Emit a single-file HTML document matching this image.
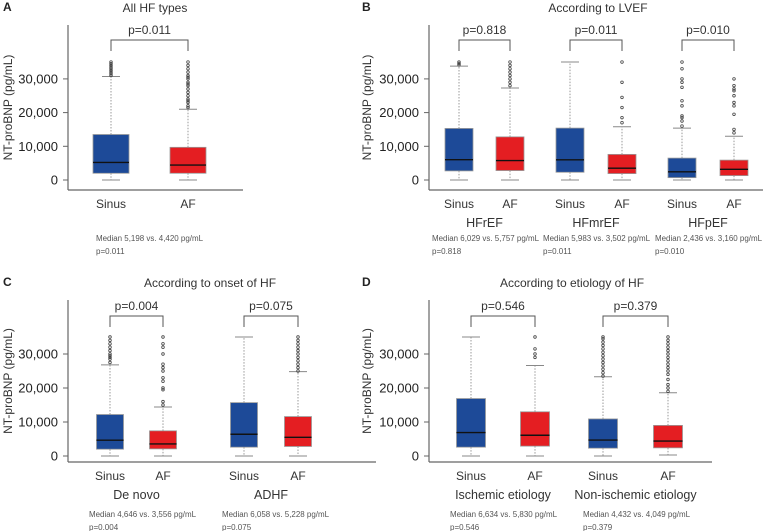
<!DOCTYPE html>
<html><head><meta charset="utf-8"><style>
body{margin:0;background:#fff;}
svg{display:block;font-family:"Liberation Sans",sans-serif;}
</style></head><body>
<svg id="chart" width="765" height="531" viewBox="0 0 765 531" xmlns="http://www.w3.org/2000/svg"></svg>
<script>
// ---- data (values in pg/mL) ----
const yTicks = [0, 10000, 20000, 30000];
const yTickLabels = ["0", "10,000", "20,000", "30,000"];
const categoriesA = ["Sinus", "AF"];
const q1A = [2000, 2000];
const medA = [5198, 4420];
const q3A = [13500, 9700];
const whLoA = [0, 0];
const whHiA = [30700, 21000];
const outA = [[31000,31500,32000,32500,33000,33500,34000,34500,35000],[21500,22000,23000,23500,24000,25000,26000,27000,28000,28500,29000,30000,30500,31000,32000,33000,34000,35000]];
const categoriesB = ["Sinus","AF","Sinus","AF","Sinus","AF"];
const q1B = [2700, 2800, 2300, 1900, 700, 1300];
const medB = [6029, 5757, 5983, 3502, 2436, 3160];
const q3B = [15300, 12800, 15400, 7600, 6500, 5900];
const whLoB = [0, 0, 0, 0, 0, 0];
const whHiB = [33800, 27300, 35000, 15800, 15400, 13000];
const outB = [[34200,34600,35000],[28000,29000,30000,31000,32000,33000,34000,35000],[],[17000,18500,21500,24500,29000,35000],[16000,17500,18500,19000,22000,23500,27500,29000,30000,33000,35000],[14000,15000,19500,22000,23000,25000,26500,27000,28000,30000]];
const categoriesC = ["Sinus","AF","Sinus","AF"];
const q1C = [2000, 2100, 2600, 2800];
const medC = [4646, 3556, 6400, 5500];
const q3C = [12200, 7400, 15700, 11600];
const whLoC = [0, 0, 0, 0];
const whHiC = [26800, 14400, 35000, 24800];
const outC = [[27500,28500,29000,29500,30000,31000,32000,33000,34000,35000],[15000,16000,19500,20000,22000,23000,25000,26000,27000,30000,32000,33000,35000],[],[25000,26000,27000,28000,29000,30000,31000,32000,33000,34000,35000]];
const categoriesD = ["Sinus","AF","Sinus","AF"];
const q1D = [2600, 2900, 2300, 2400];
const medD = [6900, 6100, 4700, 4400];
const q3D = [16900, 13000, 10900, 9000];
const whLoD = [0, 0, 0, 300];
const whHiD = [35000, 26600, 23300, 18600];
const outD = [[],[29000,30000,31500,35000],[23500,24500,25500,26500,27500,28500,29500,30500,31500,32500,33500,34500,35000],[19000,20000,21000,22500,24000,25000,26000,27000,28000,29000,30000,31000,32000,33000,34000,35000]];
const pValsA = ["p=0.011"];
const pValsB = ["p=0.818","p=0.011","p=0.010"];
const pValsC = ["p=0.004","p=0.075"];
const pValsD = ["p=0.546","p=0.379"];

const NS = "http://www.w3.org/2000/svg";
const svg = document.getElementById('chart');
function mk(tag, attrs, parent, text){
  const e = document.createElementNS(NS, tag);
  for (const k in attrs) e.setAttribute(k, attrs[k]);
  if (text !== undefined) e.textContent = text;
  (parent || svg).appendChild(e);
  return e;
}

function panel(o){
  const g = mk('g', {});
  
  
  const y = v => o.y0 - v * o.k;
  let t = mk('text', {x:o.letterX, y:o.top-14, 'font-size':12, 'font-weight':'bold', fill:'#222'}, g, o.letter);
   
  t = mk('text', {x:o.titleX, y:o.top-13, 'font-size':12, 'text-anchor':'middle', fill:'#333'}, g, o.title);
   
  let l = mk('line', {x1:o.ax, y1:o.top, x2:o.ax, y2:o.axisY, stroke:'#666', 'stroke-width':1.2}, g);
   
  l = mk('line', {x1:o.ax, y1:o.axisY, x2:o.axEnd, y2:o.axisY, stroke:'#666', 'stroke-width':1.2}, g);
   
  yTicks.forEach((v, i) => {
    const tk = mk('line', {x1:o.ax-5, y1:y(v), x2:o.ax, y2:y(v), stroke:'#666'}, g);
     
    const tl = mk('text', {x:o.ax-10, y:y(v)+4.5, 'font-size':13, 'text-anchor':'end', fill:'#222'}, g, yTickLabels[i]);
     
  });
  const yt = mk('text', {x:0, y:0, 'font-size':12, 'text-anchor':'middle', fill:'#333', transform:`translate(${o.ylabX},${(o.top+o.axisY)/2}) rotate(-90)`}, g, 'NT-proBNP (pg/mL)');
   
  o.cats.forEach((c, i) => {
    const cx = o.cx[i], w = o.bw, col = i % 2 === 0 ? '#1d4a98' : '#e41e22';
    const bg = mk('g', {}, g);
    
    
    mk('line', {x1:cx, y1:y(o.q3[i]), x2:cx, y2:y(o.hi[i]), stroke:'#999', 'stroke-dasharray':'1.5,1.5'}, bg);
    mk('line', {x1:cx, y1:y(o.q1[i]), x2:cx, y2:y(o.lo[i]), stroke:'#999', 'stroke-dasharray':'1.5,1.5'}, bg);
    mk('line', {x1:cx-9, y1:y(o.hi[i]), x2:cx+9, y2:y(o.hi[i]), stroke:'#888', 'stroke-width':1}, bg);
    mk('line', {x1:cx-9, y1:y(o.lo[i]), x2:cx+9, y2:y(o.lo[i]), stroke:'#888', 'stroke-width':1}, bg);
    mk('rect', {x:cx-w/2, y:y(o.q3[i]), width:w, height:y(o.q1[i])-y(o.q3[i]), fill:col, stroke:'#999', 'stroke-width':0.8}, bg);
    mk('line', {x1:cx-w/2, y1:y(o.med[i]), x2:cx+w/2, y2:y(o.med[i]), stroke:'#111', 'stroke-width':1.4}, bg);
    o.out[i].forEach(v => {
      const p = mk('circle', {cx:cx, cy:y(v), r:1.3, fill:'none', stroke:'#444', 'stroke-width':0.8}, bg);
       
    });
    const lb = mk('text', {x:cx, y:o.axisY+18, 'font-size':12, 'text-anchor':'middle', fill:'#333'}, g, c);
     
  });
  o.p.forEach((pv, j) => {
    const a = o.cx[2*j], b = o.cx[2*j+1];
    const br = mk('path', {d:`M${a},${o.brY+11}V${o.brY}H${b}V${o.brY+11}`, fill:'none', stroke:'#555', 'stroke-width':1}, g);
     
    const pt = mk('text', {x:(a+b)/2, y:o.brY-6, 'font-size':12, 'text-anchor':'middle', fill:'#333'}, g, pv);
     
  });
  (o.groups || []).forEach((gl, j) => {
    const x = (o.cx[2*j] + o.cx[2*j+1]) / 2;
    const gt = mk('text', {x:x, y:o.axisY+37, 'font-size':12.5, 'text-anchor':'middle', fill:'#333'}, g, gl);
     
  });
  o.notes.forEach((n, j) => {
    const n1 = mk('text', {x:o.noteX[j], y:o.noteY, 'font-size':8, fill:'#555', textLength:107, lengthAdjust:'spacingAndGlyphs'}, g, n);
     
    const n2 = mk('text', {x:o.noteX[j], y:o.noteY+13, 'font-size':8, fill:'#555'}, g, o.p[j]);
     
  });
}

panel({name:'panel-a', letter:'A', letterX:3, ylabX:12, title:'All HF types', titleX:155, ax:68, axEnd:243, top:25, axisY:190, y0:180, k:0.00337,
  cats:categoriesA, cx:[111,188], bw:36, q1:q1A, med:medA, q3:q3A, lo:whLoA, hi:whHiA, out:outA,
  p:pValsA, brY:40, groups:null, notes:['Median 5,198 vs. 4,420 pg/mL'], noteX:[96], noteY:241});
panel({name:'panel-b', letter:'B', letterX:362, ylabX:371, title:'According to LVEF', titleX:598, ax:429, axEnd:763, top:25, axisY:190, y0:180, k:0.00337,
  cats:categoriesB, cx:[459,510,570,622,682,734], bw:28, q1:q1B, med:medB, q3:q3B, lo:whLoB, hi:whHiB, out:outB,
  p:pValsB, brY:40, groups:['HFrEF','HFmrEF','HFpEF'],
  notes:['Median 6,029 vs. 5,757 pg/mL','Median 5,983 vs. 3,502 pg/mL','Median 2,436 vs. 3,160 pg/mL'], noteX:[432,543,655], noteY:241});
panel({name:'panel-c', letter:'C', letterX:3, ylabX:12, title:'According to onset of HF', titleX:210, ax:68, axEnd:376, top:300, axisY:462, y0:456, k:0.0034,
  cats:categoriesC, cx:[110,163,244,298], bw:27, q1:q1C, med:medC, q3:q3C, lo:whLoC, hi:whHiC, out:outC,
  p:pValsC, brY:316, groups:['De novo','ADHF'],
  notes:['Median 4,646 vs. 3,556 pg/mL','Median 6,058 vs. 5,228 pg/mL'], noteX:[89,222], noteY:517});
panel({name:'panel-d', letter:'D', letterX:362, ylabX:371, title:'According to etiology of HF', titleX:572, ax:429, axEnd:712, top:300, axisY:462, y0:456, k:0.0034,
  cats:categoriesD, cx:[471,535,603,668], bw:29, q1:q1D, med:medD, q3:q3D, lo:whLoD, hi:whHiD, out:outD,
  p:pValsD, brY:316, groups:['Ischemic etiology','Non-ischemic etiology'],
  notes:['Median 6,634 vs. 5,830 pg/mL','Median 4,432 vs. 4,049 pg/mL'], noteX:[450,583], noteY:517});
</script>
</body></html>
